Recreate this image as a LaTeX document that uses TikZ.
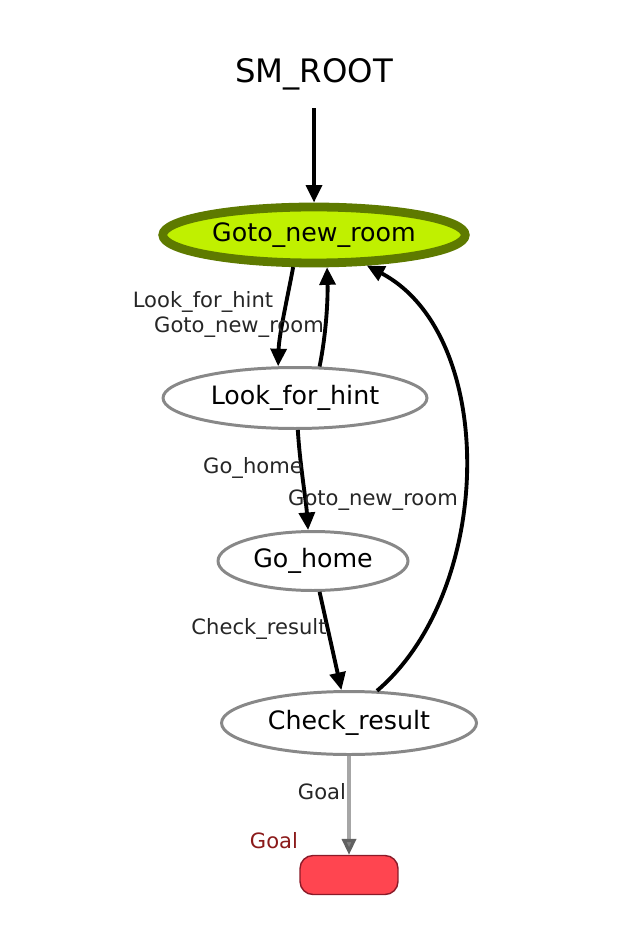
\documentclass[tikz,border=0pt]{standalone}
\usepackage{fontspec}
\setmainfont{DejaVu Sans}
\usetikzlibrary{arrows.meta,shapes.geometric}
\definecolor{activefill}{HTML}{C0F000}
\definecolor{activeline}{HTML}{5E7A00}
\definecolor{goalfill}{HTML}{FF4550}
\definecolor{goalline}{HTML}{8A1A28}
\definecolor{goaltext}{HTML}{8B1A1A}
\definecolor{stateline}{HTML}{888888}
\begin{document}
\begin{tikzpicture}[x=0.02cm,y=-0.02cm,
        state/.style={ellipse,draw=stateline,line width=1.7pt,outer sep=0.85pt,inner sep=0pt,
            font=\fontsize{14.4}{17}\selectfont},
        active/.style={state,draw=activeline,fill=activefill,line width=5pt,outer sep=2.5pt},
        goalbox/.style={draw=goalline,fill=goalfill,line width=0.8pt,rounded corners=0.26cm,
            minimum width=1.96cm,minimum height=0.78cm},
        lbl/.style={font=\fontsize{12}{14}\selectfont,text=black!85,inner sep=0pt},
        edge/.style={line width=2.2pt,-{Triangle[length=10pt,width=9pt]}},
        goaledge/.style={line width=1.8pt,draw=black!35,
            -{Triangle[length=9pt,width=8pt,color=black!62,fill=black!50]}}]
                \useasboundingbox (0,0) rectangle (643,925);

                \node[font=\fontsize{18.4}{22}\selectfont,minimum height=1.36cm,inner sep=0pt] (root) at (314,74) {SM\_ROOT};
                \node[active,minimum width=6.05cm,minimum height=1.12cm] (goto) at (314,235) {Goto\_new\_room};
                \node[state,minimum width=5.28cm,minimum height=1.22cm] (hint) at (295,398) {Look\_for\_hint};
                \node[state,minimum width=3.8cm,minimum height=1.18cm] (home) at (313,561) {Go\_home};
                \node[state,minimum width=5.1cm,minimum height=1.26cm] (check) at (349,723) {Check\_result};
                \node[goalbox] (goal) at (349,875) {};
                \node[lbl,text=goaltext] (goalname) at (274,841) {Goal};

                \draw[edge] (root) -- (goto);
                \draw[edge] (goto.-123) .. controls (287,300) and (279,335) .. (hint.118);
                \draw[edge] (hint.52) .. controls (326,335) and (328,300) .. (goto.-68);
                \draw[edge] (hint.-85) .. controls (300,465) and (306,500) .. (home.99);
                \draw[edge] (home.-78) -- (check.103);
                \draw[edge] (check.49) .. controls (495,590) and (498,335) .. (goto.-30);
                \draw[goaledge] (check) -- (goal);

                \node[lbl] (l1) at (203,302) {Look\_for\_hint};
                \node[lbl] (l2) at (239,327) {Goto\_new\_room};
                \node[lbl] (l3) at (253,468) {Go\_home};
                \node[lbl] (l4) at (373,500) {Goto\_new\_room};
                \node[lbl] (l5) at (259,629) {Check\_result};
                \node[lbl] (l6) at (322,792) {Goal};
\end{tikzpicture}
\end{document}
